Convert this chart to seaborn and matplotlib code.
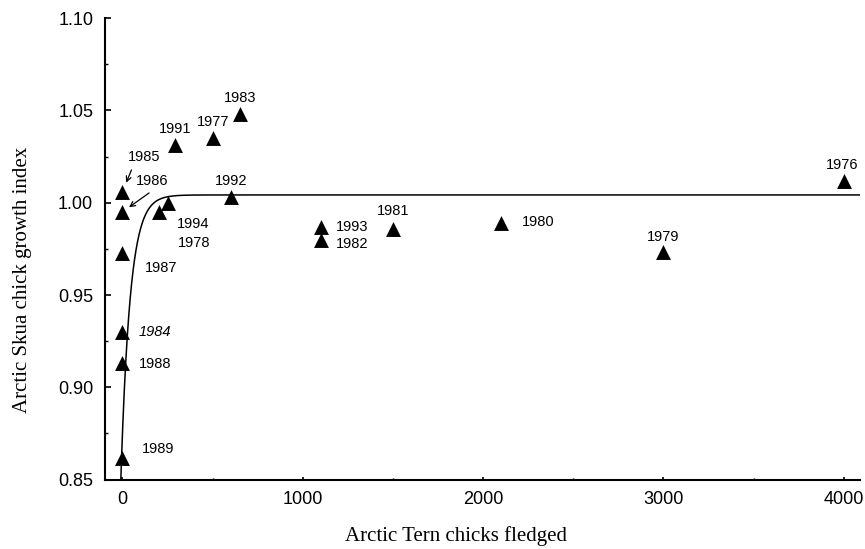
import numpy as np
import pandas as pd
import matplotlib
matplotlib.use("Agg")
import matplotlib.pyplot as plt
from matplotlib.ticker import MultipleLocator, FormatStrFormatter
import seaborn as sns

# ---- data ----
years = ['1976', '1977', '1978', '1979', '1980', '1981', '1982', '1983', '1984',
         '1985', '1986', '1987', '1988', '1989', '1991', '1992', '1993', '1994']
tern_fledged = [4000, 500, 200, 3000, 2100, 1500, 1100, 650, 0,
                0, 0, 0, 0, 0, 290, 600, 1100, 250]
skua_growth = [1.012, 1.035, 0.995, 0.9735, 0.989, 0.986, 0.980, 1.048, 0.930,
               1.006, 0.995, 0.973, 0.913, 0.8615, 1.031, 1.003, 0.987, 1.000]

# fitted asymptotic curve  y = A - B * exp(-C * x)
fit_A, fit_B, fit_C = 1.0042, 0.1287, 0.0195

x_ticks = [0, 1000, 2000, 3000, 4000]
y_ticks = [0.85, 0.90, 0.95, 1.00, 1.05, 1.10]

# label offsets (pixels) relative to each point
label_offsets = {
    '1976': (-2, 16), '1977': (0, 16.5), '1978': (36, -31), '1979': (0, 14.5),
    '1980': (37.5, 1.5), '1981': (0, 17.5), '1982': (31.5, -4), '1983': (0, 16),
    '1984': (32.5, 0), '1985': (21.3, 34.7), '1986': (30, 31), '1987': (38.3, -15),
    '1988': (32.7, -1), '1989': (35.7, 9), '1991': (0, 16), '1992': (0, 16),
    '1993': (31.6, 0), '1994': (25.6, -21.7),
}
arrow_tails = {'1985': ((9, 21.7), 7.0), '1986': ((26.6, 19), 5.8)}

df = pd.DataFrame({'year': years, 'tern': tern_fledged, 'growth': skua_growth})
curve_x = np.linspace(-15, 4090, 2000)
curve = pd.DataFrame({'x': curve_x, 'y': fit_A - fit_B * np.exp(-fit_C * curve_x)})

sns.set_theme(style='ticks')
plt.rcParams['font.family'] = ['Liberation Sans', 'DejaVu Sans']

fig = plt.figure(figsize=(8.65, 5.49), dpi=100)
ax = fig.add_axes([105 / 865, 69.4 / 549, 755 / 865, 461.5 / 549])

sns.lineplot(data=curve, x='x', y='y', ax=ax, color='black', lw=1.1,
             estimator=None, sort=False, legend=False)
sns.scatterplot(data=df, x='tern', y='growth', ax=ax, marker='^', s=115,
                color='black', edgecolor='black', linewidth=0, zorder=5,
                legend=False)

for yr, xv, yv in zip(years, tern_fledged, skua_growth):
    dx, dy = label_offsets[yr]
    ax.annotate(yr, xy=(xv, yv), xytext=(dx, dy), textcoords='offset pixels',
                ha='center', va='center', fontsize=10.5, color='black',
                family=['Liberation Sans', 'DejaVu Sans'],
                style='italic' if yr == '1984' else 'normal')
    if yr in arrow_tails:
        (tx, ty), shr = arrow_tails[yr]
        ax.annotate('', xy=(xv, yv), xytext=(tx, ty), textcoords='offset pixels',
                    arrowprops=dict(arrowstyle='->', color='black', lw=0.9,
                                    shrinkA=0, shrinkB=shr,
                                    mutation_scale=9))

ax.set_xlim(-97, 4090)
ax.set_ylim(0.85, 1.10)
ax.set_xticks(x_ticks)
ax.set_yticks(y_ticks)
ax.xaxis.set_minor_locator(MultipleLocator(500))
ax.yaxis.set_minor_locator(MultipleLocator(0.025))
ax.yaxis.set_major_formatter(FormatStrFormatter('%.2f'))

ax.tick_params(axis='both', which='both', direction='in', colors='black',
               labelsize=13)
ax.tick_params(axis='y', which='major', length=4.5, width=1.2, pad=8.5)
ax.tick_params(axis='y', which='minor', length=2.2, width=1.0)
ax.tick_params(axis='x', which='major', length=2.5, width=1.2, pad=8.5)
ax.tick_params(axis='x', which='minor', length=1.5, width=1.0)

sns.despine(ax=ax)
for sp in ('left', 'bottom'):
    ax.spines[sp].set_linewidth(1.5)
    ax.spines[sp].set_color('black')

ax.set_xlabel('Arctic Tern chicks fledged', fontsize=15,
              family=['Liberation Serif', 'DejaVu Serif'], color='black')
ax.set_ylabel('Arctic Skua chick growth index', fontsize=15,
              family=['Liberation Serif', 'DejaVu Serif'], color='black')
ax.xaxis.set_label_coords(0.465, -0.1005)
ax.yaxis.set_label_coords(-0.0967, 0.4325)

ax.set_facecolor('white')
fig.patch.set_facecolor('white')
fig.savefig('out.png', dpi=100, facecolor='white')
